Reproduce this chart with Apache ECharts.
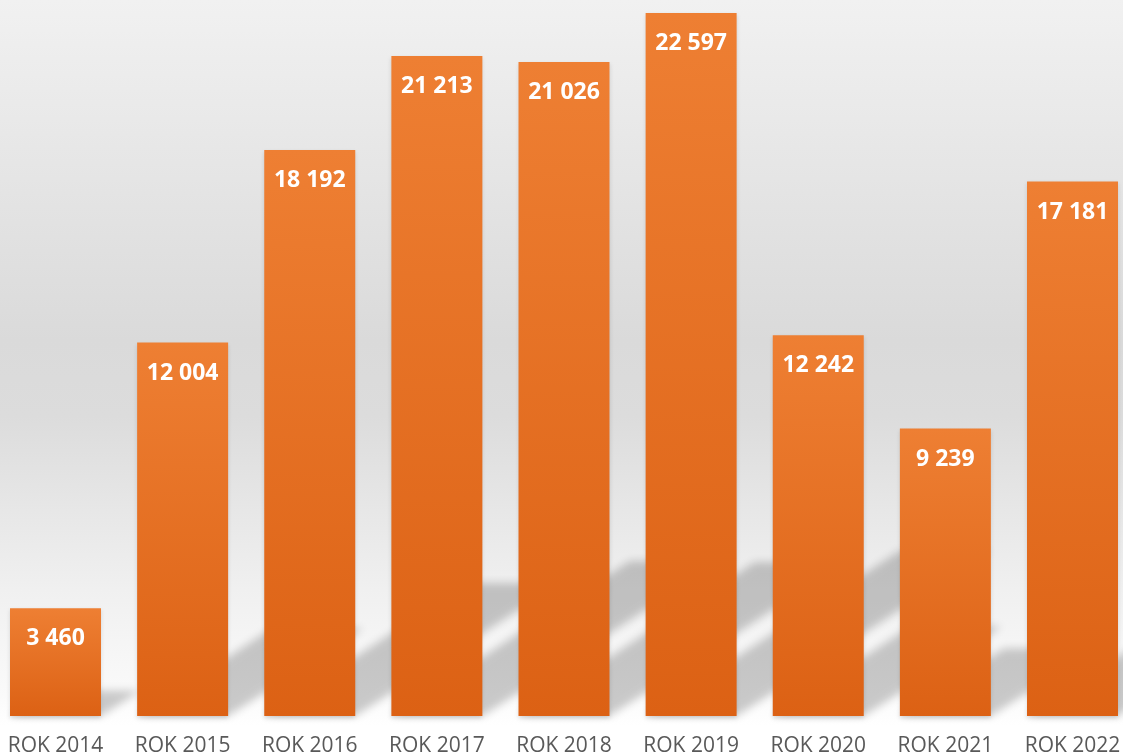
<!DOCTYPE html>
<html>
<head>
<meta charset="utf-8">
<script src="https://cdn.jsdelivr.net/npm/echarts@6/dist/echarts.min.js"></script>
<style>
  html, body { margin: 0; padding: 0; }
  body {
    width: 1123px; height: 756px;
    background: linear-gradient(to bottom, #f1f1f1 0%, #dadada 45%, #dcdcdc 55%, #f0f0f0 78%, #fafafa 92%, #ffffff 96%, #ffffff 100%);
  }
  #chart { width: 1123px; height: 756px; }
</style>
</head>
<body>
<div id="chart"></div>
<script>
var years = ['ROK 2014', 'ROK 2015', 'ROK 2016', 'ROK 2017', 'ROK 2018', 'ROK 2019', 'ROK 2020', 'ROK 2021', 'ROK 2022'];
var values = [3460, 12004, 18192, 21213, 21026, 22597, 12242, 9239, 17181];

var myChart = echarts.init(document.getElementById('chart'));

// liczby ze spacja jako separatorem tysiecy
function fmt(v) {
  return String(v).replace(/\B(?=(\d{3})+(?!\d))/g, ' ');
}

// cien perspektywiczny za kazdym slupkiem
// ksztalt rysowany poza ekranem, widoczny jest tylko rozmyty cien (shadowOffsetX)
var OFF = 3000;
function renderShadow(params, api) {
  var idx = api.value(0);
  var base = api.coord([idx, 0]);
  var top = api.coord([idx, api.value(1)]);
  var half = api.size([1, 0])[0] * 91 / 127 / 2;
  var h = base[1] - top[1];
  var rise = h * 0.235;
  var run = rise / 0.65;
  var x0 = base[0] - OFF;
  return {
    type: 'polygon',
    shape: {
      points: [
        [x0 - half, base[1]],
        [x0 + half, base[1]],
        [x0 + half + run, base[1] - rise],
        [x0 - half + run, base[1] - rise]
      ]
    },
    style: {
      fill: '#000',
      shadowBlur: 9,
      shadowOffsetX: OFF,
      shadowColor: 'rgba(0,0,0,0.2)'
    }
  };
}

var option = {
  backgroundColor: 'transparent',
  animation: false,
  grid: { left: 55.5, right: 50.5, top: 0, bottom: 40, outerBoundsMode: 'none' },
  xAxis: {
    type: 'category',
    data: years,
    boundaryGap: false,
    axisLine: { show: false },
    axisTick: { show: false },
    axisLabel: {
      color: '#595959',
      fontSize: 21,
      fontFamily: 'Open Sans',
      margin: 20,
      interval: 0
    }
  },
  yAxis: {
    type: 'value',
    min: 0,
    max: 23015,
    show: false,
    splitLine: { show: false }
  },
  series: [
    {
      type: 'custom',
      silent: true,
      z: 1,
      renderItem: renderShadow,
      data: values.map(function (v, i) { return [i, v]; })
    },
    {
      type: 'bar',
      z: 2,
      barWidth: 91,
      data: values,
      itemStyle: {
        color: new echarts.graphic.LinearGradient(0, 0, 0, 1, [
          { offset: 0, color: '#ee7f33' },
          { offset: 1, color: '#dc6114' }
        ]),
        shadowBlur: 4,
        shadowColor: 'rgba(0,0,0,0.12)',
        shadowOffsetY: 2
      },
      label: {
        show: true,
        position: 'insideTop',
        distance: 19,
        color: '#ffffff',
        fontWeight: 'bold',
        fontSize: 23,
        fontFamily: 'Open Sans',
        formatter: function (p) { return fmt(p.value); }
      }
    }
  ]
};

myChart.setOption(option);
</script>
</body>
</html>
